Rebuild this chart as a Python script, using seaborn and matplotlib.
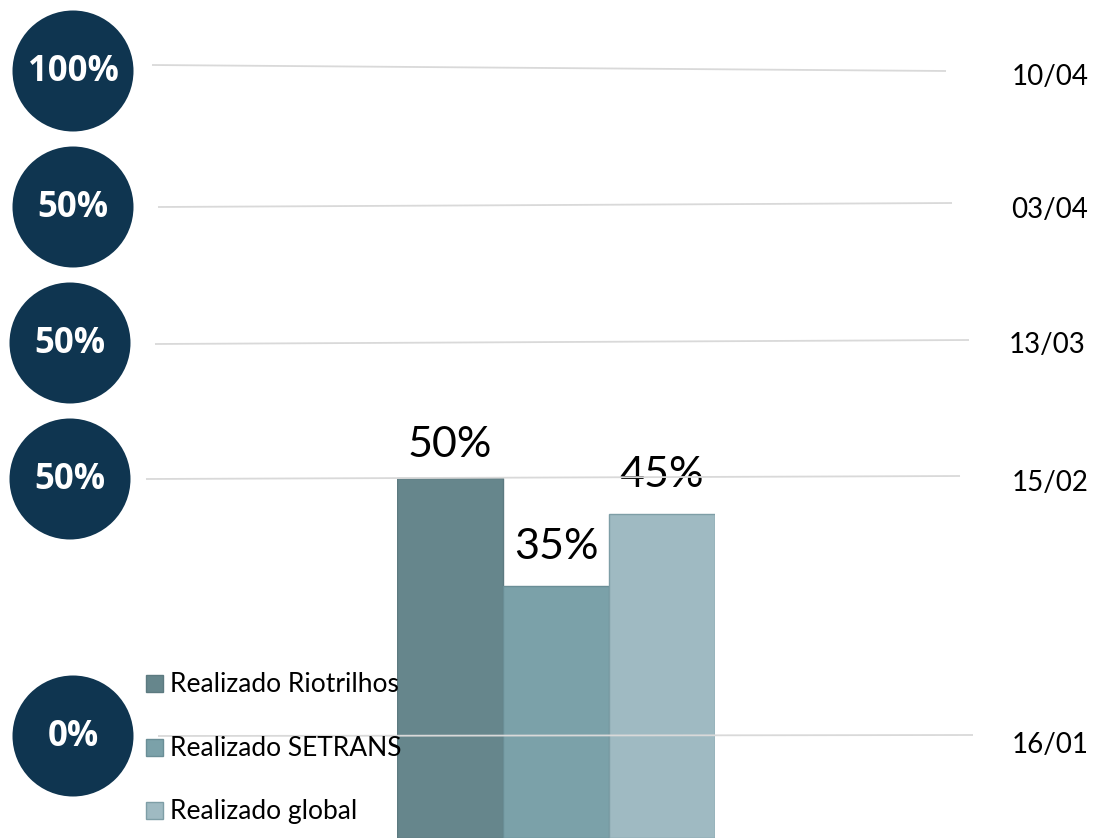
import matplotlib
matplotlib.use("Agg")
import matplotlib.pyplot as plt
from matplotlib.patches import Circle, Rectangle
import seaborn as sns
import pandas as pd

# ---- data ----
categories = ["Realizado Riotrilhos", "Realizado SETRANS", "Realizado global"]
values = [50, 35, 45]
bar_colors = ["#66868C", "#7BA1A9", "#9FBAC2"]
edge_colors = ["#5C7A80", "#6A8E96", "#7E9EA6"]
circle_labels = ["100%", "50%", "50%", "50%", "0%"]
date_labels = ["10/04", "03/04", "13/03", "15/02", "16/01"]

sns.set_style("white")
plt.rcParams["font.family"] = ["Lato", "DejaVu Sans"]

W, H = 1096, 838
fig = plt.figure(figsize=(W / 100, H / 100), dpi=100)
fig.patch.set_facecolor("white")

# ---- bar axes ----
axb = fig.add_axes([397 / W, 0, 318 / W, 720 / H])
df = pd.DataFrame({"cat": categories, "val": values})
sns.barplot(data=df, x="cat", y="val", hue="cat", palette=bar_colors,
            width=1.0, legend=False, ax=axb, saturation=1)
for p, ec in zip(axb.patches, edge_colors):
    p.set_edgecolor(ec)
    p.set_linewidth(1.0)
axb.set_xlim(-0.5, 2.5)
axb.set_ylim(0, 100)
axb.axis("off")
offsets = [33, 39, 39]
for i, (v, off) in enumerate(zip(values, offsets)):
    axb.annotate(f"{v}%", xy=(i, v), xytext=(0, off * 0.72), textcoords="offset points",
                 ha="center", va="center", fontsize=31, color="black")

# ---- overlay (pixel coords) ----
ax = fig.add_axes([0, 0, 1, 1], zorder=3)
ax.set_xlim(0, W)
ax.set_ylim(H, 0)
ax.axis("off")
ax.patch.set_alpha(0)

navy = "#0F3550"
circle_pos = [(73, 71), (73, 207), (70, 343), (70, 479), (73, 736)]
for (cx, cy), lab in zip(circle_pos, circle_labels):
    ax.add_patch(Circle((cx, cy), 60.5, color=navy, lw=0))
    ax.text(cx, cy + 1, lab, color="white", fontsize=25, fontweight="bold",
            family=["Open Sans", "DejaVu Sans"], ha="center", va="center")

lines = [((152, 65), (946, 71)), ((158, 207), (952, 203)), ((155, 344), (969, 340)),
         ((146, 479), (960, 476)), ((158, 736), (973, 735))]
for (x0, y0), (x1, y1) in lines:
    ax.plot([x0, x1], [y0, y1], color="#D9D9D9", lw=1.3, solid_capstyle="butt")

date_pos = [(1050, 77), (1050, 210), (1047, 345), (1050, 483), (1050, 745)]
for (dx, dy), lab in zip(date_pos, date_labels):
    ax.text(dx, dy, lab, fontsize=20, color="black", ha="center", va="center")

leg_y = [683, 747, 810]
for y, lab, c, ec in zip(leg_y, categories, bar_colors, edge_colors):
    ax.add_patch(Rectangle((146, y - 8.5), 17, 17, facecolor=c, edgecolor=ec, lw=1))
    ax.text(170, y + 1, lab, fontsize=19, color="black", ha="left", va="center")

fig.savefig("out.png", dpi=100, facecolor="white")
